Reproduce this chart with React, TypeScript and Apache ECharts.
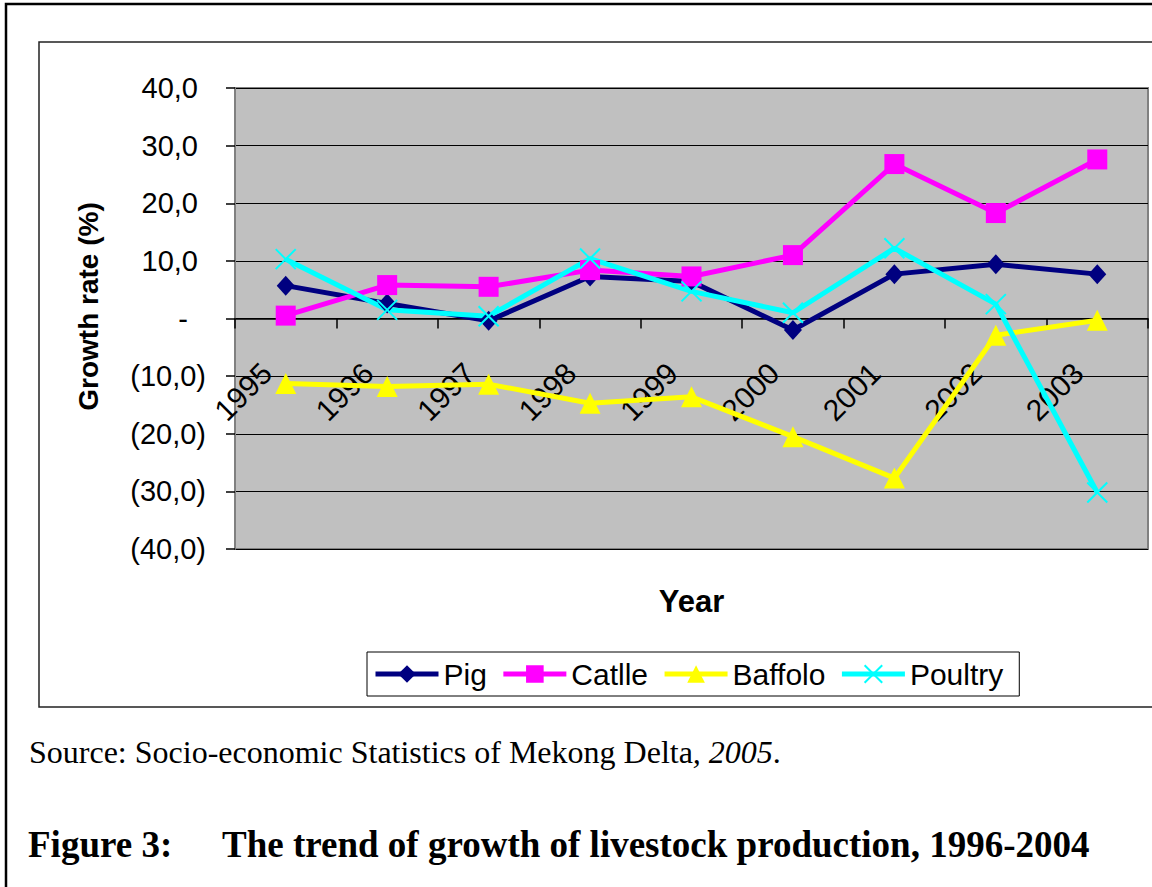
import React, { useEffect, useRef } from "react";
import * as echarts from "echarts";

const categories = ["1995", "1996", "1997", "1998", "1999", "2000", "2001", "2002", "2003"];
const pig = [5.7, 2.6, -0.4, 7.3, 6.4, -2.0, 7.7, 9.4, 7.7];
const catlle = [0.5, 5.8, 5.5, 8.4, 7.3, 11.0, 26.8, 18.3, 27.6];
const baffolo = [-11.3, -11.8, -11.4, -14.7, -13.6, -20.5, -27.7, -2.9, -0.3];
const poultry = [10.3, 1.5, 0.4, 10.4, 4.7, 1.0, 12.2, 2.5, -30.2];

const yTickValues = [-40, -30, -20, -10, 0, 10, 20, 30, 40];
const yTickLabels = ["(40,0)", "(30,0)", "(20,0)", "(10,0)", "-", "10,0", "20,0", "30,0", "40,0"];

const SANS = "'Liberation Sans', Arial, sans-serif";
const SERIF = "'Liberation Serif', 'Times New Roman', serif";

export default function App() {
  const ref = useRef<HTMLDivElement>(null);
  useEffect(() => {
    if (!ref.current) return;
    const chart = echarts.init(ref.current, null, { renderer: "svg" });
    const lbl = { fontFamily: SANS, fontSize: 29, color: "#000" };
    chart.setOption({
      animation: false,
      backgroundColor: "#fff",
      title: [
        {
          text: "Source: Socio-economic Statistics of Mekong Delta{i|, 2005}.",
          left: 29,
          top: 736,
          padding: 0,
          textStyle: {
            fontFamily: SERIF,
            fontSize: 32,
            fontWeight: "normal",
            color: "#000",
            rich: { i: { fontFamily: SERIF, fontSize: 32, fontStyle: "italic", color: "#000" } },
          },
        },
        {
          text: "Figure 3:",
          left: 28,
          top: 826,
          padding: 0,
          textStyle: { fontFamily: SERIF, fontSize: 37, fontWeight: "bold", color: "#000" },
        },
        {
          text: "The trend of growth of livestock production, 1996-2004",
          left: 222,
          top: 826,
          padding: 0,
          textStyle: { fontFamily: SERIF, fontSize: 37, fontWeight: "bold", color: "#000" },
        },
      ],
      graphic: [
        {
          type: "rect",
          shape: { x: 6, y: 4, width: 1300, height: 1000 },
          style: { fill: "none", stroke: "#000", lineWidth: 2.5 },
        },
        {
          type: "rect",
          shape: { x: 39, y: 42, width: 1300, height: 665 },
          style: { fill: "none", stroke: "#222", lineWidth: 1.5 },
        },
      ],
      grid: {
        left: 235,
        top: 88,
        width: 913,
        height: 461,
        show: true,
        backgroundColor: "#C0C0C0",
        borderColor: "#808080",
        borderWidth: 2,
      },
      legend: {
        left: 367,
        top: 652,
        orient: "horizontal",
        backgroundColor: "#fff",
        borderColor: "#000",
        borderWidth: 1,
        borderRadius: 0,
        padding: [7, 16, 7, 6],
        itemGap: 14,
        itemWidth: 63,
        itemHeight: 22,
        lineStyle: { width: 5 },
        textStyle: { fontFamily: SANS, fontSize: 30, color: "#000" },
        data: ["Pig", "Catlle", "Baffolo", "Poultry"],
      },
      xAxis: {
        type: "category",
        data: categories,
        boundaryGap: true,
        name: "Year",
        nameLocation: "middle",
        nameGap: 37,
        nameTextStyle: { fontFamily: SANS, fontSize: 31, fontWeight: "bold", color: "#000" },
        axisLine: { onZero: true, lineStyle: { color: "#000", width: 1.5 } },
        axisTick: { show: true, length: 10, inside: false, alignWithLabel: false, lineStyle: { color: "#000", width: 1.5 } },
        axisLabel: { ...lbl, fontSize: 30, rotate: 45, margin: -200, padding: [0, 27, 0, 0], interval: 0 },
        splitLine: { show: false },
      },
      yAxis: {
        type: "value",
        min: -40,
        max: 40,
        interval: 10,
        name: "Growth rate (%)",
        nameLocation: "middle",
        nameGap: 133,
        nameTextStyle: { fontFamily: SANS, fontSize: 28, fontWeight: "bold", color: "#000", padding: [0, 0, 0, 24] },
        axisLine: { show: true, lineStyle: { color: "#808080", width: 2 } },
        axisTick: { show: true, length: 9, inside: false, lineStyle: { color: "#000", width: 1.5 } },
        splitLine: { show: true, lineStyle: { color: "#000", width: 1.2 } },
        axisLabel: {
          ...lbl,
          margin: 29,
          formatter: (v: number) => {
            const i = yTickValues.indexOf(Math.round(v));
            const t = yTickLabels[i];
            if (v === 0) return `{z|${t}}`;
            if (v > 0) return `{p|${t}}`;
            return `{n|${t}}`;
          },
          rich: {
            z: { ...lbl, padding: [0, 18, 0, 0] },
            p: { ...lbl, padding: [0, 8, 0, 0] },
            n: { ...lbl },
          },
        },
      },
      series: [
        {
          name: "Pig",
          type: "line",
          data: pig,
          symbol: "diamond",
          symbolSize: [18, 20],
          lineStyle: { color: "#000080", width: 5 },
          itemStyle: { color: "#000080" },
        },
        {
          name: "Catlle",
          type: "line",
          data: catlle,
          symbol: "rect",
          symbolSize: 20,
          lineStyle: { color: "#FF00FF", width: 5 },
          itemStyle: { color: "#FF00FF" },
        },
        {
          name: "Baffolo",
          type: "line",
          data: baffolo,
          symbol: "triangle",
          symbolSize: 21,
          lineStyle: { color: "#FFFF00", width: 5 },
          itemStyle: { color: "#FFFF00" },
        },
        {
          name: "Poultry",
          type: "line",
          data: poultry,
          symbol: "path://M0,0L20,20M20,0L0,20",
          symbolSize: 20,
          lineStyle: { color: "#00FFFF", width: 5 },
          itemStyle: { color: "#00FFFF", borderColor: "#00FFFF", borderWidth: 2 },
        },
      ],
    });
    return () => chart.dispose();
  }, []);
  return (
    <div
      ref={ref}
      style={{ position: "absolute", left: 0, top: 0, width: 1152, height: 887 }}
    />
  );
}
